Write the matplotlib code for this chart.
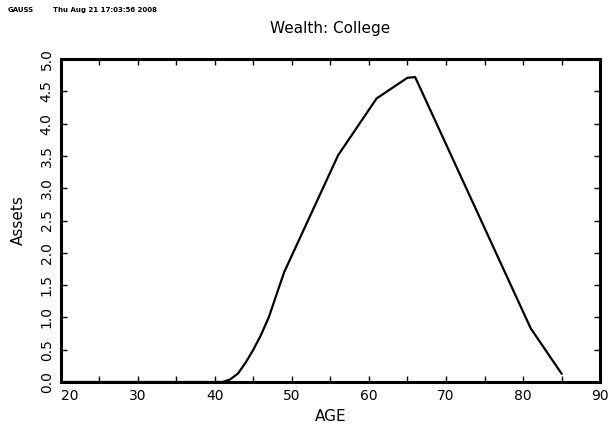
import matplotlib
matplotlib.use("Agg")
import matplotlib.pyplot as plt
from matplotlib.ticker import MultipleLocator

# ages and wealth
age = [20, 41, 42, 43, 44, 45, 46, 47, 49, 56, 61, 65, 66, 81, 85]
assets = [0.0, 0.0, 0.04, 0.13, 0.30, 0.50, 0.73, 1.0, 1.70, 3.51, 4.39, 4.71, 4.72, 0.83, 0.13]

x_ticks = [20, 30, 40, 50, 60, 70, 80, 90]
y_ticks = [0.0, 0.5, 1.0, 1.5, 2.0, 2.5, 3.0, 3.5, 4.0, 4.5, 5.0]

fig = plt.figure(figsize=(6.08, 4.34), dpi=100)
ax = fig.add_axes([0.0998, 0.1198, 0.8872, 0.7442])

ax.plot(age, assets, color="black", lw=1.6, solid_joinstyle="round")

ax.set_xlim(20, 90)
ax.set_ylim(0, 5)
ax.set_xticks(x_ticks)
ax.xaxis.set_minor_locator(MultipleLocator(5))
ax.set_yticks(y_ticks)
ax.set_yticklabels(["%.1f" % v for v in y_ticks], rotation=90, va="center")
xl = ax.set_xticklabels([str(v) for v in x_ticks])
xl[0].set_ha("left")

ax.tick_params(which="both", direction="in", top=True, right=True,
               labelsize=10, width=1.0, pad=5)
ax.tick_params(which="major", length=4)
ax.tick_params(which="minor", length=4)
for s in ax.spines.values():
    s.set_linewidth(2.2)

ax.set_xlabel("AGE", fontsize=11, labelpad=4)
ax.set_ylabel("Assets", fontsize=11, labelpad=10)
ax.set_title("Wealth: College", fontsize=11, pad=19)

fig.text(0.013, 0.983, "GAUSS", fontsize=5, fontweight="bold", va="top")
fig.text(0.087, 0.983, "Thu Aug 21 17:03:56 2008", fontsize=5, fontweight="bold", va="top")

fig.savefig("out.png", dpi=100)
